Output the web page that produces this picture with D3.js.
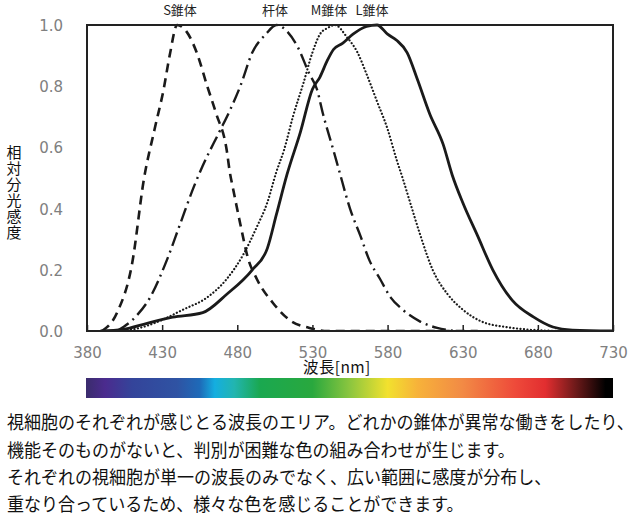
<!DOCTYPE html>
<html><head><meta charset="utf-8">
<script src="https://cdn.jsdelivr.net/npm/d3@7/dist/d3.min.js"></script>
<style>
html,body{margin:0;padding:0;background:#fff;}
svg{display:block;}
</style></head>
<body>
<svg id="chart" width="640" height="520"></svg>
<script>
// ---- data ----
const xTicks = [380, 430, 480, 530, 580, 630, 680, 730];
const yTicks = [0, 0.2, 0.4, 0.6, 0.8, 1.0];
const seriesNames = ["S錐体", "杆体", "M錐体", "L錐体"];

const sCone = [[390,0],[400,0.06],[410,0.22],[418,0.50],[425,0.66],[431,0.79],[435,0.90],[440,1.0],[446,0.98],[453,0.91],[460,0.80],[466,0.71],[473,0.59],[475,0.52],[477,0.47],[482,0.35],[487,0.24],[493,0.17],[504,0.09],[515,0.035],[528,0.01],[540,0],[580,0],[640,0]];
const rod = [[400,0],[413,0.05],[422,0.11],[433,0.23],[442,0.35],[451,0.47],[457,0.54],[468,0.65],[475,0.72],[482,0.80],[490,0.91],[499,0.97],[506,1.0],[513,0.98],[520,0.93],[528,0.84],[533,0.79],[537,0.71],[544,0.59],[548,0.52],[555,0.40],[562,0.31],[568,0.23],[575,0.17],[582,0.11],[590,0.07],[602,0.03],[613,0.01],[625,0]];
const mCone = [[400,0],[415,0.01],[427,0.03],[444,0.07],[460,0.11],[473,0.17],[484,0.25],[493,0.34],[500,0.42],[506,0.52],[511,0.59],[517,0.70],[524,0.81],[530,0.91],[535,0.97],[540,0.99],[545,1.0],[553,0.96],[560,0.91],[566,0.84],[573,0.75],[580,0.66],[586,0.56],[590,0.50],[595,0.42],[602,0.31],[610,0.20],[620,0.12],[630,0.07],[643,0.03],[659,0.013],[679,0.003],[700,0],[730,0]];
const lCone = [[389,0],[404,0.005],[420,0.025],[437,0.045],[457,0.06],[473,0.12],[490,0.20],[500,0.27],[506,0.38],[513,0.51],[522,0.65],[530,0.79],[535,0.83],[540,0.885],[544,0.92],[550,0.94],[557,0.97],[566,0.995],[573,1.0],[580,0.97],[586,0.95],[593,0.91],[600,0.82],[608,0.71],[617,0.61],[623,0.51],[630,0.42],[640,0.31],[650,0.20],[663,0.10],[677,0.046],[690,0.013],[703,0.003],[730,0]];

const spectrumStops = [[380,"#3b2c6e"],[392,"#4b2b8e"],[410,"#34449a"],[440,"#2f53a3"],[455,"#1e6ab8"],[465,"#14aee0"],[478,"#22b5b0"],[495,"#1aa850"],[530,"#29a83e"],[555,"#8cc63f"],[580,"#f2e12e"],[600,"#f7b23a"],[630,"#f28a45"],[665,"#ee4a3a"],[685,"#e22e30"],[705,"#6e1a1a"],[725,"#000000"],[730,"#000000"]];

const captionLines = [
  "視細胞のそれぞれが感じとる波長のエリア。どれかの錐体が異常な働きをしたり、",
  "機能そのものがないと、判別が困難な色の組み合わせが生じます。",
  "それぞれの視細胞が単一の波長のみでなく、広い範囲に感度が分布し、",
  "重なり合っているため、様々な色を感じることができます。"
];
const yTitle = "相対分光感度";
const xTitle = "波長[nm]";

// ---- drawing ----
(function(){
const svg = d3.select("#chart");
const pL = 87, pR = 613, pT = 25, pB = 331;
const x = d3.scaleLinear().domain([380, 730]).range([pL, pR]);
const y = d3.scaleLinear().domain([0, 1]).range([pB, pT]);
const jp = "'Noto Sans CJK JP','Noto Sans',sans-serif";
const num = "'DejaVu Sans',Verdana,sans-serif";

const line = d3.line().x(d => x(d[0])).y(d => y(d[1])).curve(d3.curveMonotoneX);
svg.append("clipPath").attr("id","clip").append("rect")
  .attr("x", pL).attr("y", pT - 4).attr("width", pR-pL).attr("height", pB-pT+4);
const g = svg.append("g").attr("clip-path","url(#clip)");
const styles = [
  {data: sCone, dash: "9,6", w: 2.6, cap: "butt"},
  {data: rod, dash: "14,5,2,5", w: 2.4, cap: "butt"},
  {data: mCone, dash: "0.1,3.4", w: 2.2, cap: "round"},
  {data: lCone, dash: null, w: 2.8, cap: "butt"}
];
styles.forEach(s => {
  g.append("path").datum(s.data).attr("d", line)
    .attr("fill","none").attr("stroke","#1a1a1a")
    .attr("stroke-width", s.w)
    .attr("stroke-dasharray", s.dash)
    .attr("stroke-linecap", s.cap);
});

svg.append("rect").attr("x", pL).attr("y", pT)
  .attr("width", pR-pL).attr("height", pB-pT)
  .attr("fill","none").attr("stroke","#222").attr("stroke-width",2);

const xAxis = svg.append("g").attr("transform", `translate(0,${pB})`)
  .call(d3.axisBottom(x).tickValues(xTicks).tickSize(-6).tickFormat(d3.format("d")));
xAxis.select(".domain").remove();
xAxis.selectAll(".tick line").attr("stroke","#222").attr("stroke-width",1.5);
xAxis.selectAll(".tick text").attr("y", 27).attr("dy", 0)
  .attr("fill","#808080").style("font-family", num).style("font-size","15px");

const yAxis = svg.append("g").attr("transform", `translate(${pL},0)`)
  .call(d3.axisLeft(y).tickValues(yTicks).tickSize(0).tickFormat(d3.format(".1f")));
yAxis.select(".domain").remove();
yAxis.selectAll(".tick text").attr("x", -24).attr("dy", "0.36em")
  .attr("fill","#808080").style("font-family", num).style("font-size","15px");

// vertical y title
svg.append("text").attr("x", 14).attr("y", 145)
  .style("writing-mode","vertical-rl").style("glyph-orientation-vertical","0")
  .attr("fill","#111").style("font-family", jp).style("font-size","15px")
  .style("letter-spacing","1px").text(yTitle);

svg.append("text").attr("x", 303).attr("y", 373).attr("fill","#111")
  .style("font-family", jp).style("font-size","15.5px").style("letter-spacing","0.4px").text(xTitle);

const labelX = [180, 275, 329, 372];
svg.append("g").selectAll("text").data(seriesNames).join("text")
  .attr("x", (d,i) => labelX[i]).attr("y", 15).attr("text-anchor","middle")
  .attr("fill","#222").style("font-family", jp).style("font-size","13px").text(d => d);

const grad = svg.append("defs").append("linearGradient").attr("id","spec")
  .attr("gradientUnits","userSpaceOnUse")
  .attr("x1", x(380)).attr("x2", x(730)).attr("y1",0).attr("y2",0);
grad.selectAll("stop").data(spectrumStops).join("stop")
  .attr("offset", d => ((x(d[0]) - x(380)) / (x(730) - x(380))))
  .attr("stop-color", d => d[1]);
svg.append("rect").attr("x", x(380)-1).attr("y", 378)
  .attr("width", x(730)-x(380)+1).attr("height", 20).attr("fill","url(#spec)");

// caption (slightly condensed glyphs)
svg.append("g").attr("transform","translate(7,0) scale(0.915,1)")
  .selectAll("text").data(captionLines).join("text")
  .attr("x", 0).attr("y", (d,i) => 429.5 + i*27.3)
  .attr("fill","#111").style("font-family", jp).style("font-size","18.6px")
  .text(d => d);
})();
</script>
</body></html>
